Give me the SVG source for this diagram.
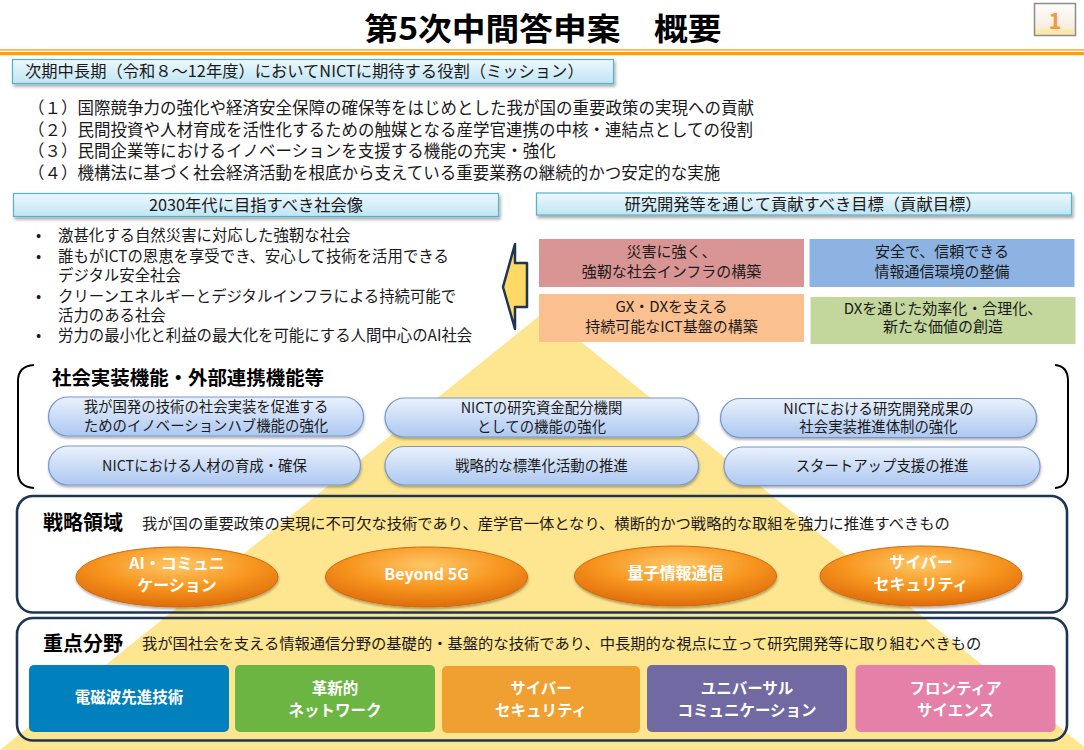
<svg xmlns="http://www.w3.org/2000/svg" width="1084" height="750" viewBox="0 0 1084 750">
<defs>
<linearGradient id="hdrGrad" x1="0" y1="0" x2="0" y2="1"><stop offset="0" stop-color="#eef8fd"/><stop offset="1" stop-color="#bfe5f4"/></linearGradient>
<linearGradient id="pillGrad" x1="0" y1="0" x2="0" y2="1"><stop offset="0" stop-color="#eaf1fc"/><stop offset="1" stop-color="#adc8f1"/></linearGradient>
<radialGradient id="ellGrad" cx="0.5" cy="0.3" r="0.7"><stop offset="0" stop-color="#ffc766"/><stop offset="0.55" stop-color="#f7951f"/><stop offset="1" stop-color="#df6c0a"/></radialGradient>
<linearGradient id="pageGrad" x1="0" y1="0" x2="0" y2="1"><stop offset="0" stop-color="#fdfcfa"/><stop offset="0.75" stop-color="#f8eedf"/><stop offset="0.85" stop-color="#fdeaa6"/><stop offset="1" stop-color="#f9e6b8"/></linearGradient>
<filter id="shadow" x="-10%" y="-20%" width="120%" height="160%"><feDropShadow dx="1.5" dy="2.5" stdDeviation="1.5" flood-color="#000" flood-opacity="0.35"/></filter>
<filter id="shadow2" x="-10%" y="-20%" width="120%" height="160%"><feDropShadow dx="0.5" dy="2" stdDeviation="1.2" flood-color="#000" flood-opacity="0.3"/></filter>
</defs>
<style>
text{font-family:"Noto Sans CJK JP","Noto Sans CJK SC",sans-serif;fill:#1a1a1a}
.title{font-size:31px;font-weight:bold;fill:#000}
.hdr{fill:url(#hdrGrad);stroke:#55b2cc;stroke-width:1.2;filter:url(#shadow)}
.hdrt{font-size:16.3px}
.item{font-size:16.5px}
.bul{font-size:15.4px}
.goal{font-size:15px}
.pill{fill:url(#pillGrad);stroke:#7797cd;stroke-width:1.2;filter:url(#shadow2)}
.pillt{font-size:14.4px}
.sec{fill:none;stroke:#1f3554;stroke-width:2.6}
.sech{font-size:19px;font-weight:bold;fill:#000}
.desc{font-size:15.3px}
.ell{fill:url(#ellGrad);stroke:#cf6a12;stroke-width:1;filter:url(#shadow2)}
.ellt{font-size:16px;font-weight:bold;fill:#fff}
.keyt{font-size:15.5px;font-weight:bold;fill:#fff}
.mid{text-anchor:middle}
</style>
<rect width="1084" height="750" fill="#fff"/>
<polygon id="pyramid" points="544,312 1088,750 0,750" fill="#fee58f"/>

<g id="title">
<text class="title mid" x="543" y="40" textLength="357" lengthAdjust="spacingAndGlyphs">第5次中間答申案　概要</text>
</g>
<g id="page-number">
<rect x="1034.5" y="3.5" width="41" height="32" fill="url(#pageGrad)" stroke="#8c8c8c" stroke-width="1.5"/>
<text x="1055" y="29" class="mid" style="font-size:22px;font-weight:bold;fill:#f79646">1</text>
</g>
<g id="rule">
<rect x="0" y="49.3" width="1084" height="1.3" fill="#ffa000"/>
<rect x="0" y="52" width="1084" height="3.2" fill="#ffa000"/>
</g>

<g id="mission">
<rect class="hdr" x="12.5" y="59.5" width="601" height="24"/>
<text class="hdrt" x="25" y="77">次期中長期（令和８～12年度）においてNICTに期待する役割（ミッション）</text>
<text class="item" x="28" y="114">（１）国際競争力の強化や経済安全保障の確保等をはじめとした我が国の重要政策の実現への貢献</text>
<text class="item" x="28" y="135.5">（２）民間投資や人材育成を活性化するための触媒となる産学官連携の中核・連結点としての役割</text>
<text class="item" x="28" y="157">（３）民間企業等におけるイノベーションを支援する機能の充実・強化</text>
<text class="item" x="28" y="178.5">（４）機構法に基づく社会経済活動を根底から支えている重要業務の継続的かつ安定的な実施</text>
</g>

<g id="society2030">
<rect class="hdr" x="13.5" y="193.5" width="485" height="23"/>
<text class="hdrt mid" x="256" y="211">2030年代に目指すべき社会像</text>
<text class="bul" x="36" y="240.5">•</text>
<text class="bul" x="58" y="240.5">激甚化する自然災害に対応した強靭な社会</text>
<text class="bul" x="36" y="261.5">•</text>
<text class="bul" x="58" y="261.5">誰もがICTの恩恵を享受でき、安心して技術を活用できる</text>
<text class="bul" x="58" y="280.5">デジタル安全社会</text>
<text class="bul" x="36" y="302">•</text>
<text class="bul" x="58" y="302">クリーンエネルギーとデジタルインフラによる持続可能で</text>
<text class="bul" x="58" y="320.5">活力のある社会</text>
<text class="bul" x="36" y="341">•</text>
<text class="bul" x="58" y="341">労力の最小化と利益の最大化を可能にする人間中心のAI社会</text>
</g>

<g id="arrow">
<polygon points="503,287 515,244 515,263 527,263 527,307 515,307 515,329" fill="#ffd966" stroke="#1f3554" stroke-width="2.5" stroke-linejoin="round"/>
</g>

<g id="goals">
<rect class="hdr" x="536.5" y="193" width="535" height="22"/>
<text class="hdrt mid" x="803" y="210">研究開発等を通じて貢献すべき目標（貢献目標）</text>
<g id="goal-resilient">
<rect x="539" y="239" width="265" height="48" fill="#d99594"/>
<text class="goal mid" x="671.5" y="257">災害に強く、</text>
<text class="goal mid" x="671.5" y="276.5">強靭な社会インフラの構築</text>
</g>
<g id="goal-secure">
<rect x="809.5" y="239" width="265" height="48" fill="#8db3e2"/>
<text class="goal mid" x="942" y="257">安全で、信頼できる</text>
<text class="goal mid" x="942" y="276.5">情報通信環境の整備</text>
</g>
<g id="goal-gxdx">
<rect x="539" y="294" width="265" height="48" fill="#fac08f"/>
<text class="goal mid" x="671.5" y="312">GX・DXを支える</text>
<text class="goal mid" x="671.5" y="332">持続可能なICT基盤の構築</text>
</g>
<g id="goal-dx">
<rect x="810.5" y="297" width="265" height="47" fill="#c3d69b"/>
<text class="goal mid" x="943" y="313.5">DXを通じた効率化・合理化、</text>
<text class="goal mid" x="943" y="332">新たな価値の創造</text>
</g>
</g>

<g id="social">
<path d="M34,365 Q18,366 18,381 V472 Q18,487 34,488" fill="none" stroke="#000" stroke-width="2"/>
<path d="M1055,365 Q1068,366 1068,381 V472 Q1068,487 1055,488" fill="none" stroke="#000" stroke-width="2"/>
<text class="sech" x="52" y="384.5" textLength="272" lengthAdjust="spacingAndGlyphs">社会実装機能・外部連携機能等</text>
<g id="pill-hub">
<rect class="pill" x="48.5" y="397" width="315" height="39" rx="19.5"/>
<text class="pillt mid" x="206" y="412">我が国発の技術の社会実装を促進する</text>
<text class="pillt mid" x="206" y="430.5">ためのイノベーションハブ機能の強化</text>
</g>
<g id="pill-funding">
<rect class="pill" x="385" y="398" width="313.5" height="39" rx="19.5"/>
<text class="pillt mid" x="541.5" y="413">NICTの研究資金配分機関</text>
<text class="pillt mid" x="541.5" y="431.5">としての機能の強化</text>
</g>
<g id="pill-results">
<rect class="pill" x="720.5" y="398.5" width="316" height="39" rx="19.5"/>
<text class="pillt mid" x="878.5" y="413.5">NICTにおける研究開発成果の</text>
<text class="pillt mid" x="878.5" y="432">社会実装推進体制の強化</text>
</g>
<g id="pill-talent">
<rect class="pill" x="48.5" y="446" width="312" height="39" rx="19.5"/>
<text class="pillt mid" x="204.5" y="470.5">NICTにおける人材の育成・確保</text>
</g>
<g id="pill-standard">
<rect class="pill" x="385" y="446.5" width="313.5" height="38.5" rx="19.25"/>
<text class="pillt mid" x="541.5" y="470.5">戦略的な標準化活動の推進</text>
</g>
<g id="pill-startup">
<rect class="pill" x="724" y="447" width="316" height="38.5" rx="19.25"/>
<text class="pillt mid" x="882" y="471">スタートアップ支援の推進</text>
</g>
</g>

<g id="strategic">
<rect class="sec" x="17" y="496" width="1050" height="116.5" rx="16"/>
<text class="sech" x="43" y="530" style="font-size:20px" textLength="80" lengthAdjust="spacingAndGlyphs">戦略領域</text>
<text class="desc" x="142" y="528.5">我が国の重要政策の実現に不可欠な技術であり、産学官一体となり、横断的かつ戦略的な取組を強力に推進すべきもの</text>
<g id="s-ai">
<ellipse class="ell" cx="177" cy="577" rx="101" ry="30"/>
<text class="ellt mid" x="177" y="569">AI・コミュニ</text>
<text class="ellt mid" x="177" y="591">ケーション</text>
</g>
<g id="s-b5g">
<ellipse class="ell" cx="426.5" cy="577" rx="101" ry="30"/>
<text class="ellt mid" x="426.5" y="580">Beyond 5G</text>
</g>
<g id="s-quantum">
<ellipse class="ell" cx="675.5" cy="576" rx="101" ry="30"/>
<text class="ellt mid" x="675.5" y="579">量子情報通信</text>
</g>
<g id="s-cyber">
<ellipse class="ell" cx="921" cy="576" rx="101" ry="30"/>
<text class="ellt mid" x="921" y="568">サイバー</text>
<text class="ellt mid" x="921" y="590">セキュリティ</text>
</g>
</g>

<g id="key">
<rect class="sec" x="17" y="618" width="1050" height="122.5" rx="16"/>
<text class="sech" x="43" y="651" style="font-size:20px" textLength="80" lengthAdjust="spacingAndGlyphs">重点分野</text>
<text class="desc" x="142" y="649">我が国社会を支える情報通信分野の基礎的・基盤的な技術であり、中長期的な視点に立って研究開発等に取り組むべきもの</text>
<g id="k-em">
<rect x="29" y="665" width="200" height="67" rx="5" fill="#0080bd"/>
<text class="keyt mid" x="129" y="703">電磁波先進技術</text>
</g>
<g id="k-net">
<rect x="235" y="665" width="200" height="67" rx="5" fill="#6db543"/>
<text class="keyt mid" x="335" y="694">革新的</text>
<text class="keyt mid" x="335" y="716">ネットワーク</text>
</g>
<g id="k-cyber">
<rect x="442" y="666" width="198" height="67" rx="5" fill="#efa030"/>
<text class="keyt mid" x="541" y="694">サイバー</text>
<text class="keyt mid" x="541" y="716">セキュリティ</text>
</g>
<g id="k-uc">
<rect x="647" y="665" width="200" height="67" rx="5" fill="#716aa2"/>
<text class="keyt mid" x="747" y="694">ユニバーサル</text>
<text class="keyt mid" x="747" y="716">コミュニケーション</text>
</g>
<g id="k-frontier">
<rect x="855.5" y="665" width="200" height="67" rx="5" fill="#e580a8"/>
<text class="keyt mid" x="955.5" y="694">フロンティア</text>
<text class="keyt mid" x="955.5" y="716">サイエンス</text>
</g>
</g>
<g id="connectors"/>
</svg>
